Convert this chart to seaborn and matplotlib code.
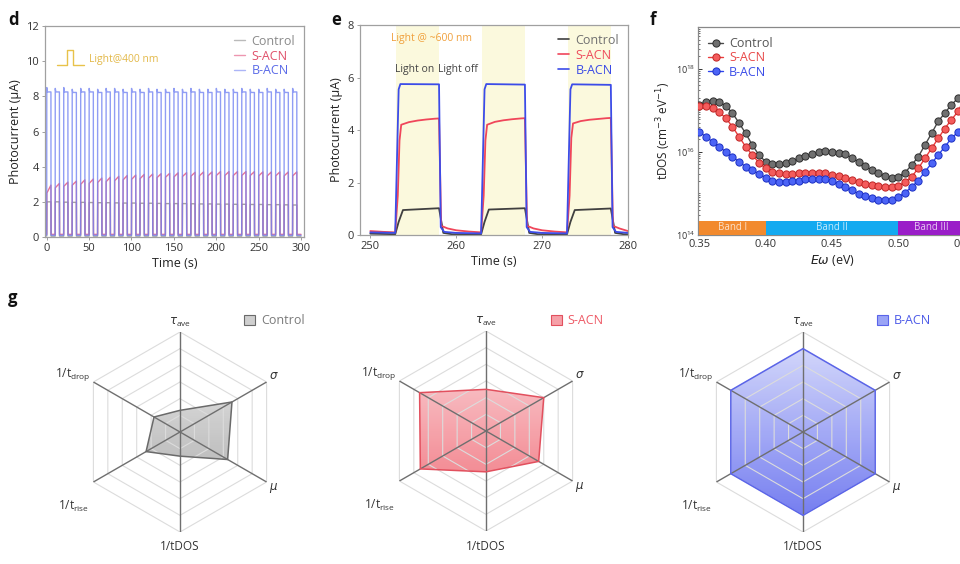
import numpy as np
import pandas as pd
import matplotlib
matplotlib.use("Agg")
import matplotlib.pyplot as plt
import seaborn as sns
from matplotlib.patches import Patch
from matplotlib.lines import Line2D
from matplotlib.colors import LinearSegmentedColormap
from matplotlib.ticker import FixedLocator, LogLocator, NullFormatter

sns.set_theme(style="ticks")
plt.rcParams['font.family'] = ['Open Sans', 'DejaVu Sans']
plt.rcParams['mathtext.fontset'] = 'dejavusans'

# ---------------- data: panel d ----------------
d_on_times = list(range(0, 300, 10))
d_on_duration = 5
d_blue_spike = [8.50, 8.45, 8.50, 8.40, 8.45, 8.45, 8.40, 8.45, 8.45, 8.40,
                8.45, 8.40, 8.45, 8.40, 8.40, 8.45, 8.40, 8.45, 8.40, 8.40,
                8.45, 8.40, 8.40, 8.45, 8.40, 8.40, 8.45, 8.40, 8.40, 8.45]
d_blue_plateau = [8.25, 8.25, 8.25, 8.22, 8.25, 8.25, 8.22, 8.25, 8.25, 8.22,
                  8.25, 8.22, 8.25, 8.22, 8.22, 8.25, 8.22, 8.25, 8.22, 8.22,
                  8.25, 8.22, 8.22, 8.25, 8.22, 8.22, 8.25, 8.22, 8.22, 8.25]
d_red_start = [2.50, 2.80, 2.88, 2.95, 3.00, 3.05, 3.10, 3.15, 3.20, 3.25,
               3.28, 3.32, 3.35, 3.38, 3.40, 3.42, 3.44, 3.46, 3.48, 3.48,
               3.50, 3.50, 3.50, 3.50, 3.50, 3.48, 3.48, 3.48, 3.48, 3.48]
d_red_end = [2.95, 3.05, 3.12, 3.18, 3.25, 3.30, 3.35, 3.40, 3.45, 3.50,
             3.52, 3.56, 3.58, 3.60, 3.62, 3.65, 3.66, 3.68, 3.70, 3.70,
             3.72, 3.72, 3.72, 3.72, 3.72, 3.70, 3.70, 3.70, 3.70, 3.70]
d_grey_level = [2.00, 2.00, 1.98, 1.97, 1.97, 1.96, 1.95, 1.95, 1.94, 1.93,
                1.93, 1.92, 1.92, 1.91, 1.90, 1.90, 1.90, 1.89, 1.88, 1.88,
                1.87, 1.87, 1.86, 1.86, 1.85, 1.85, 1.84, 1.84, 1.83, 1.82]
d_base = {"Control": 0.05, "S-ACN": 0.15, "B-ACN": 0.10}
d_end_time = 300

# ---------------- data: panel e ----------------
e_light_on = [253, 263, 273]
e_light_off = [258, 268, 278]
e_t_blue = [250.0, 252.9, 253.3, 253.5, 258.0, 258.2, 258.6, 260.0,
            262.9, 263.3, 263.5, 268.0, 268.2, 268.6, 270.0,
            272.9, 273.3, 273.5, 278.0, 278.2, 278.6, 280.0]
e_blue = [0.10, 0.08, 5.55, 5.75, 5.74, 0.30, 0.12, 0.08,
          0.06, 5.55, 5.75, 5.73, 0.30, 0.12, 0.08,
          0.06, 5.55, 5.74, 5.72, 0.30, 0.12, 0.08]
e_t_red = [250.0, 251.5, 252.9, 253.2, 253.4, 253.6, 254.5, 255.5, 256.5, 257.5, 258.0,
           258.25, 259.0, 260.0, 261.5, 262.9, 263.2, 263.4, 263.6, 264.5, 265.5, 266.5,
           267.5, 268.0, 268.25, 269.0, 270.0, 271.5, 272.9, 273.2, 273.4, 273.6, 274.5,
           275.5, 276.5, 277.5, 278.0, 278.25, 279.0, 280.0]
e_red = [0.15, 0.12, 0.10, 1.50, 3.60, 4.20, 4.30, 4.36, 4.40, 4.43, 4.44,
         0.35, 0.25, 0.18, 0.13, 0.10, 1.50, 3.60, 4.20, 4.31, 4.37, 4.41,
         4.44, 4.45, 0.35, 0.25, 0.18, 0.13, 0.10, 1.50, 3.70, 4.25, 4.34,
         4.39, 4.42, 4.45, 4.46, 0.35, 0.25, 0.15]
e_t_grey = [250.0, 252.9, 253.3, 253.8, 258.0, 258.5, 259.5, 262.9,
            263.3, 263.8, 268.0, 268.5, 269.5, 272.9, 273.3, 273.8,
            278.0, 278.5, 279.5, 280.0]
e_grey = [0.05, 0.03, 0.50, 0.95, 1.02, 0.08, 0.03, 0.03,
          0.50, 0.97, 1.02, 0.08, 0.03, 0.03, 0.50, 0.95,
          1.01, 0.08, 0.03, 0.03]

# ---------------- data: panel f ----------------
f_energy = [round(0.35 + 0.005 * i, 3) for i in range(41)]
f_control_log = [17.13, 17.20, 17.23, 17.20, 17.10, 16.93, 16.69, 16.44, 16.16, 15.92,
                 15.76, 15.70, 15.70, 15.73, 15.77, 15.84, 15.90, 15.95, 15.99, 16.01,
                 16.00, 15.98, 15.94, 15.85, 15.76, 15.65, 15.56, 15.48, 15.41, 15.38,
                 15.40, 15.50, 15.68, 15.88, 16.16, 16.44, 16.73, 16.93, 17.13, 17.29, 17.49]
f_sacn_log = [17.09, 17.09, 17.05, 16.95, 16.81, 16.60, 16.36, 16.12, 15.92, 15.74,
              15.60, 15.52, 15.48, 15.46, 15.46, 15.48, 15.48, 15.49, 15.48, 15.48,
              15.45, 15.42, 15.38, 15.33, 15.27, 15.23, 15.19, 15.17, 15.15, 15.15,
              15.18, 15.27, 15.40, 15.60, 15.84, 16.08, 16.32, 16.56, 16.77, 16.97, 17.29]
f_bacn_log = [16.48, 16.36, 16.24, 16.12, 16.00, 15.88, 15.76, 15.64, 15.56, 15.46,
              15.38, 15.31, 15.27, 15.27, 15.29, 15.31, 15.34, 15.35, 15.35, 15.34,
              15.30, 15.23, 15.15, 15.07, 14.99, 14.93, 14.89, 14.85, 14.84, 14.85,
              14.91, 15.02, 15.15, 15.31, 15.52, 15.72, 15.92, 16.12, 16.32, 16.48, 16.69]
f_band_names = ["Band I", "Band II", "Band III"]
f_band_start = [0.35, 0.40, 0.50]
f_band_end = [0.40, 0.50, 0.56]
f_band_colors = ["#f28a2e", "#14aaf0", "#9a1ec8"]

# ---------------- data: panel g ----------------
radar_labels = [r'$\tau_{\mathregular{ave}}$', r'$\sigma$', r'$\mu$', '1/tDOS',
                '1/t$_{\mathregular{rise}}$', '1/t$_{\mathregular{drop}}$']
radar_angles_deg = [90, 30, -30, -90, -150, 150]
radar_values = {
    "Control": [0.26, 0.72, 0.66, 0.29, 0.47, 0.36],
    "S-ACN": [0.50, 0.80, 0.73, 0.49, 0.91, 0.92],
    "B-ACN": [1.00, 1.00, 1.00, 1.00, 1.00, 1.00],
}
radar_rings = [0.2, 0.4, 0.6, 0.8, 1.0, 1.2]

series = ["Control", "S-ACN", "B-ACN"]

# ---------------- build traces for d ----------------
def pulse_trace(on_times, dur, top_start, top_end, base, end_time, rise=0.15, spike=None):
    t, v = [], []
    for i, t0 in enumerate(on_times):
        if spike is not None:
            t += [t0, t0 + rise, t0 + 0.8, t0 + dur, t0 + dur + rise]
            v += [base, spike[i], top_start[i], top_end[i], base]
        else:
            t += [t0, t0 + rise, t0 + dur, t0 + dur + rise]
            v += [base, top_start[i], top_end[i], base]
    t.append(end_time)
    v.append(base)
    return t, v

rows = []
tt, vv = pulse_trace(d_on_times, d_on_duration, d_grey_level, d_grey_level, d_base["Control"], d_end_time)
rows += [("Control", a, b) for a, b in zip(tt, vv)]
tt, vv = pulse_trace(d_on_times, d_on_duration, d_red_start, d_red_end, d_base["S-ACN"], d_end_time, rise=0.2)
rows += [("S-ACN", a, b) for a, b in zip(tt, vv)]
tt, vv = pulse_trace(d_on_times, d_on_duration, d_blue_plateau, d_blue_plateau, d_base["B-ACN"], d_end_time,
                     rise=0.1, spike=d_blue_spike)
rows += [("B-ACN", a, b) for a, b in zip(tt, vv)]
df_d = pd.DataFrame(rows, columns=["series", "time", "current"])

df_e = pd.concat([
    pd.DataFrame({"series": "Control", "time": e_t_grey, "current": e_grey}),
    pd.DataFrame({"series": "S-ACN", "time": e_t_red, "current": e_red}),
    pd.DataFrame({"series": "B-ACN", "time": e_t_blue, "current": e_blue}),
], ignore_index=True)

df_f = pd.concat([
    pd.DataFrame({"series": "Control", "E": f_energy, "tdos": 10 ** np.array(f_control_log)}),
    pd.DataFrame({"series": "S-ACN", "E": f_energy, "tdos": 10 ** np.array(f_sacn_log)}),
    pd.DataFrame({"series": "B-ACN", "E": f_energy, "tdos": 10 ** np.array(f_bacn_log)}),
], ignore_index=True)

# ---------------- figure ----------------
W, H = 960, 564
fig = plt.figure(figsize=(W / 100, H / 100), dpi=100)

def rect(l, t, w, h):
    return [l / W, 1 - (t + h) / H, w / W, h / H]

tick_col = "#333333"
spine_col = "#a0a0a0"

# ----- panel d -----
ax_d = fig.add_axes(rect(45, 26, 259, 211))
d_colors = {"Control": "#8c8c8c", "S-ACN": "#e2507c", "B-ACN": "#7585f2"}
sns.lineplot(data=df_d, x="time", y="current", hue="series", hue_order=series,
             palette=d_colors, lw=1.0, alpha=0.8, estimator=None, sort=False, ax=ax_d)
ax_d.set_xlim(-2, 303.5)
ax_d.set_ylim(0, 12)
ax_d.set_xticks([0, 50, 100, 150, 200, 250, 300])
ax_d.set_yticks([0, 2, 4, 6, 8, 10, 12])
ax_d.set_xlabel("Time (s)", fontsize=9, color="#222222", labelpad=2)
ax_d.set_ylabel("Photocurrent (μA)", fontsize=9, color="#222222", labelpad=3)
leg = ax_d.legend(handles=[Line2D([], [], color=d_colors[s], lw=1.0, alpha=0.6) for s in series],
                  labels=series, loc="upper right", frameon=False, fontsize=9,
                  handlelength=0.9, handletextpad=0.5, labelspacing=0.15, borderaxespad=0.3)
for txt, s in zip(leg.get_texts(), series):
    txt.set_color({"Control": "#8a8a8a", "S-ACN": "#e0506a", "B-ACN": "#5a6ae8"}[s])
# light icon
ax_d.plot([0.045, 0.085, 0.085, 0.11, 0.11, 0.15], [0.815, 0.815, 0.885, 0.885, 0.815, 0.815],
          transform=ax_d.transAxes, color="#e8c24a", lw=1.0)
ax_d.text(0.17, 0.84, "Light@400 nm", transform=ax_d.transAxes, color="#e3b94a",
          fontsize=7.5, va="center", ha="left")

# ----- panel e -----
ax_e = fig.add_axes(rect(360, 25, 268, 210))
e_colors = {"Control": "#404040", "S-ACN": "#f0465a", "B-ACN": "#3c4ce8"}
for on, off in zip(e_light_on, e_light_off):
    ax_e.axvspan(on, off, color="#fbf9dd", zorder=0, lw=0)
sns.lineplot(data=df_e, x="time", y="current", hue="series", hue_order=series,
             palette=e_colors, lw=1.3, estimator=None, sort=False, ax=ax_e)
ax_e.set_xlim(248.8, 280)
ax_e.set_ylim(0, 8)
ax_e.set_xticks([250, 260, 270, 280])
ax_e.set_yticks([0, 2, 4, 6, 8])
ax_e.set_xlabel("Time (s)", fontsize=9, color="#222222", labelpad=2)
ax_e.set_ylabel("Photocurrent (μA)", fontsize=9, color="#222222", labelpad=3)
leg = ax_e.legend(handles=[Line2D([], [], color=e_colors[s], lw=1.2) for s in series],
                  labels=series, loc="upper right", frameon=False, fontsize=9,
                  handlelength=0.9, handletextpad=0.5, labelspacing=0.15, borderaxespad=0.3)
for txt, s in zip(leg.get_texts(), series):
    txt.set_color({"Control": "#707070", "S-ACN": "#ee4a5c", "B-ACN": "#3a4ae6"}[s])
ax_e.text(252.4, 7.5, "Light @ ~600 nm", color="#f0a03c", fontsize=7.5, va="center", ha="left")
ax_e.text(252.9, 6.3, "Light on", color="#444444", fontsize=7.5, va="center", ha="left")
ax_e.text(257.9, 6.3, "Light off", color="#444444", fontsize=7.5, va="center", ha="left")

for ax in (ax_d, ax_e):
    for sp in ax.spines.values():
        sp.set_color(spine_col)
        sp.set_linewidth(0.9)
    ax.tick_params(labelsize=8, colors=tick_col, length=2.5, width=0.7, pad=2)
    ax.tick_params(color=spine_col)

# ----- panel f -----
ax_f = fig.add_axes(rect(698, 27, 268, 208))
f_line = {"Control": "#4a4a4a", "S-ACN": "#ec3c3c", "B-ACN": "#2f45ee"}
f_face = {"Control": "#707070", "S-ACN": "#f45c5c", "B-ACN": "#4c64f6"}
f_edge = {"Control": "#2e2e2e", "S-ACN": "#c02626", "B-ACN": "#1c30c4"}
for s in series:
    sub = df_f[df_f.series == s]
    ax_f.plot(sub.E, sub.tdos, "-o", color=f_line[s], mfc=f_face[s], mec=f_edge[s],
              ms=5.2, mew=0.7, lw=1.0, label=s, zorder=3, clip_on=True)
ax_f.set_yscale("log")
ax_f.set_xlim(0.349, 0.551)
ax_f.set_ylim(1e14, 1e19)
for nm, a, b, c in zip(f_band_names, f_band_start, f_band_end, f_band_colors):
    ax_f.axvspan(a, b, ymin=0, ymax=0.068, color=c, lw=0, zorder=4)
    ax_f.text((a + min(b, 0.55)) / 2, 10 ** (14 + 0.17), nm, color="white", alpha=0.75,
              fontsize=7, ha="center", va="center", zorder=5)
ax_f.yaxis.set_major_locator(FixedLocator([1e14, 1e16, 1e18]))
ax_f.yaxis.set_minor_locator(LogLocator(base=10, subs=np.arange(1, 10), numticks=30))
ax_f.yaxis.set_minor_formatter(NullFormatter())
ax_f.set_xticks([0.35, 0.40, 0.45, 0.50, 0.55])
ax_f.set_xticklabels(["0.35", "0.40", "0.45", "0.50", "0.55"])
ax_f.tick_params(axis="both", which="both", direction="in", colors=tick_col)
ax_f.tick_params(axis="y", which="major", labelsize=6.5, length=3, width=0.7, pad=2)
ax_f.tick_params(axis="y", which="minor", length=1.5, width=0.5)
ax_f.tick_params(axis="x", labelsize=8, length=2.5, width=0.7, pad=3)
for sp in ax_f.spines.values():
    sp.set_color("#888888")
    sp.set_linewidth(0.9)
ax_f.set_xlabel(r"$E\omega$ (eV)", fontsize=9, color="#222222", labelpad=2)
ax_f.set_ylabel(r"tDOS (cm$^{-3}$ eV$^{-1}$)", fontsize=8.5, color="#222222", labelpad=2)
leg = ax_f.legend(loc="upper left", frameon=False, fontsize=9, handlelength=1.2,
                  handletextpad=0.5, labelspacing=0.1, borderaxespad=0.4)
for txt, s in zip(leg.get_texts(), series):
    txt.set_color({"Control": "#555555", "S-ACN": "#e84848", "B-ACN": "#3a4ce8"}[s])

# ----- panel g: radar charts -----
radar_style = {
    "Control": dict(light="#ededed", dark="#9a9a9a", edge="#6a6a6a", text="#7a7a7a", patch="#cfcfcf"),
    "S-ACN": dict(light="#fcd6da", dark="#ee5c68", edge="#e2505e", text="#ee5a66", patch="#f6a0a8"),
    "B-ACN": dict(light="#d8dcfc", dark="#5c66ee", edge="#5a64ea", text="#4c5ae8", patch="#9aa4f6"),
}
radar_centers = {"Control": (180, 432), "S-ACN": (486, 431), "B-ACN": (803, 432)}
legend_anchor = {"Control": (244, 321), "S-ACN": (551, 321), "B-ACN": (877, 321)}
label_r = [1.31, 1.31, 1.31, 1.38, 1.56, 1.46]
label_ang_adj = [90, 31, -31, -90, -145, 152]
theta = np.deg2rad(radar_angles_deg)
theta_closed = np.append(theta, theta[0])
R = 100
for s in series:
    cx, cy = radar_centers[s]
    st = radar_style[s]
    r_rect = rect(cx - R, cy - R, 2 * R, 2 * R)
    gax = fig.add_axes(r_rect)
    gax.set_xlim(0, 1)
    gax.set_ylim(0, 1)
    gax.axis("off")
    cmap = LinearSegmentedColormap.from_list("g_" + s, [st["light"], st["dark"]])
    im = gax.imshow(np.linspace(0, 1, 256)[:, None], cmap=cmap, aspect="auto",
                    extent=[0, 1, 0, 1], origin="upper", alpha=0.9)
    pax = fig.add_axes(r_rect, projection="polar")
    pax.patch.set_alpha(0)
    pax.set_ylim(0, radar_rings[-1])
    pax.spines["polar"].set_visible(False)
    pax.grid(False)
    pax.set_xticks([])
    pax.set_yticks([])
    for lv in radar_rings:
        pax.plot(theta_closed, [lv] * len(theta_closed), color="#dcdcdc", lw=0.8, zorder=1)
    for th in theta:
        pax.plot([th, th], [0, radar_rings[-1]], color="#6f6f6f", lw=1.0, zorder=2)
    vals = radar_values[s]
    vals_closed = np.append(vals, vals[0])
    poly = pax.fill(theta_closed, vals_closed, facecolor="none", edgecolor=st["edge"], lw=1.1, zorder=3)[0]
    im.set_clip_path(poly)
    for lab, rr, aa in zip(radar_labels, label_r, label_ang_adj):
        pax.text(np.deg2rad(aa), rr, lab, fontsize=8.5, color="#333333", ha="center", va="center")
    lx, ly = legend_anchor[s]
    lg = fig.legend(handles=[Patch(facecolor=st["patch"], edgecolor=st["edge"], lw=0.8)], labels=[s],
                    loc="center left", bbox_to_anchor=(lx / W, 1 - ly / H), frameon=False,
                    fontsize=9, handlelength=0.85, handleheight=0.85, handletextpad=0.5,
                    borderaxespad=0, borderpad=0)
    lg.get_texts()[0].set_color(st["text"])

# panel letters
for letter, (x, y) in {"d": (8, 20), "e": (331, 20), "f": (650, 20), "g": (8, 298)}.items():
    fig.text(x / W, 1 - y / H, letter, fontsize=12, fontweight="bold", ha="left", va="center",
             color="#111111")

fig.savefig("out.png", dpi=100)
